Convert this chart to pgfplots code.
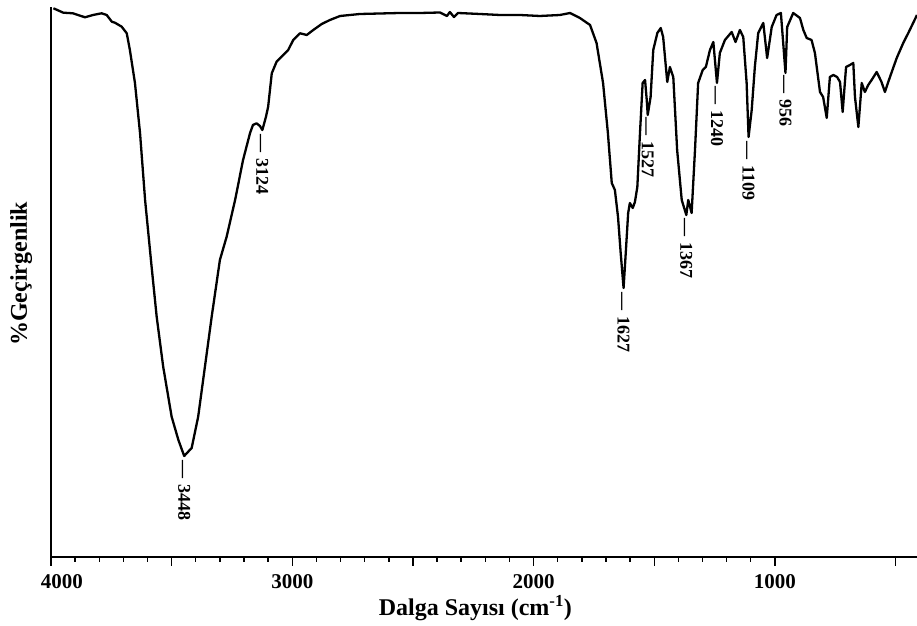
\documentclass[border=0pt]{standalone}
\usepackage{fontspec}
\setmainfont{Liberation Serif}
\usepackage{pgfplots}
\pgfplotsset{compat=1.18}

\begin{document}
\begin{tikzpicture}[x=1pt,y=1pt]
\begin{axis}[
  scale only axis,
  width=866pt, height=550pt,
  x dir=reverse,
  xmin=411, xmax=4000,
  ymin=0, ymax=550,
  axis x line*=bottom,
  axis y line*=left,
  axis line style={line width=1.8pt},
  ytick=\empty,
  xtick={1000,2000,3000,4000},
  xticklabels={1000,2000,3000,\hspace*{22pt}4000},
  extra x ticks={500,1500,2500,3500},
  extra x tick labels={},
  extra x tick style={major tick length=9pt},
  minor x tick num=9,
  tick align=outside,
  major tick length=9pt,
  minor tick length=5pt,
  every tick/.style={line width=1.4pt, black},
  xticklabel style={font=\fontsize{21}{25}\selectfont\bfseries, inner sep=0pt, anchor=north, yshift=-8pt},
  xlabel={Dalga Sayısı (cm\textsuperscript{-1})},
  xlabel style={font=\fontsize{24}{28}\selectfont\bfseries, at={(axis description cs:0.49,0)}, anchor=north, inner sep=0pt, yshift=-38pt},
  ylabel={\%Geçirgenlik},
  ylabel style={font=\fontsize{24}{28}\selectfont\bfseries, at={(axis description cs:-0.0215,0.515)}, anchor=south, inner sep=0pt},
  clip=false,
]
\addplot[black, line width=2.3pt, line join=round] coordinates {
(3990,548.7) (3949,544.3) (3909,543.7) (3859,539.7) (3826,542) (3790,543.7)
(3769,542) (3748,535.3) (3735,534.3) (3707,530.3) (3686,523.7) (3673,507)
(3652,474) (3631,424) (3610,357) (3583,290.3) (3562,240.3) (3535,190.3)
(3500,140.3) (3472,117) (3448,101) (3417,109) (3390,140.3) (3362,190.3)
(3334,240.3) (3300,297) (3272,320.3) (3237,357) (3204,397) (3175,424)
(3163,432) (3148,433.7) (3134,431) (3124,427) (3109,440.3) (3100,450.3)
(3085,483.7) (3065,495.3) (3037,502) (3017,507) (2996,517) (2968,523.7)
(2940,522) (2913,527) (2878,533) (2844,537) (2802,541) (2720,543)
(2637,543.5) (2554,544) (2471,544) (2388,544.5) (2359,541) (2347,545)
(2330,540) (2313,544) (2222,543) (2139,542) (2056,542) (1974,541)
(1891,542) (1849,544) (1808,539) (1766,532) (1739,514) (1712,474)
(1692,424) (1676,374) (1663,367) (1650,340) (1639,304) (1627,269)
(1618,304) (1608,344) (1601,354) (1589,349) (1580,355) (1570,370)
(1559,424) (1548,474) (1538,477) (1531,457) (1527,442) (1515,460)
(1504,507) (1487,524) (1473,529) (1463,520) (1446,475) (1435,490)
(1421,480) (1405,407) (1386,357) (1367,342) (1359,357) (1345,344)
(1331,407) (1318,474) (1299,487) (1286,490) (1269,507) (1255,515)
(1240,474) (1228,504) (1207,517) (1179,525) (1163,515) (1145,527)
(1131,520) (1117,474) (1109,420) (1096,447) (1083,490) (1069,524)
(1048,534) (1032,499) (1013,530) (993,542) (975,544) (956,484)
(949,530) (924,544) (896,539) (882,527) (868,519) (848,517)
(834,504) (813,465) (800,460) (785,439) (772,480) (758,482)
(742,480) (730,475) (719,445) (705,490) (689,492) (675,494)
(668,460) (654,430) (640,474) (627,465) (613,472) (599,477)
(578,485) (558,475) (544,465) (523,480) (495,499) (468,514)
(447,524) (427,534) (411,542)
};
% peak labels, read top to bottom
\foreach \wn/\yy in {3448/97, 3124/423, 1627/265, 1527/440, 1367/339, 1240/471, 1109/416, 956/482} {
  \edef\temp{\noexpand\node[rotate=-90, anchor=west, inner sep=0pt,
    font=\noexpand\fontsize{18}{22}\noexpand\selectfont\noexpand\bfseries]
    at (axis cs:\wn,\yy) {\noexpand\textemdash\noexpand\hspace{6pt}\wn};}
  \temp
}
\end{axis}
\path (current axis.south west) ++(-51pt,-69pt) coordinate (bl);
\path (current axis.north east) ++(0pt,7pt) coordinate (tr);
\pgfresetboundingbox
\path[use as bounding box] (bl) rectangle (tr);
\end{tikzpicture}
\end{document}
